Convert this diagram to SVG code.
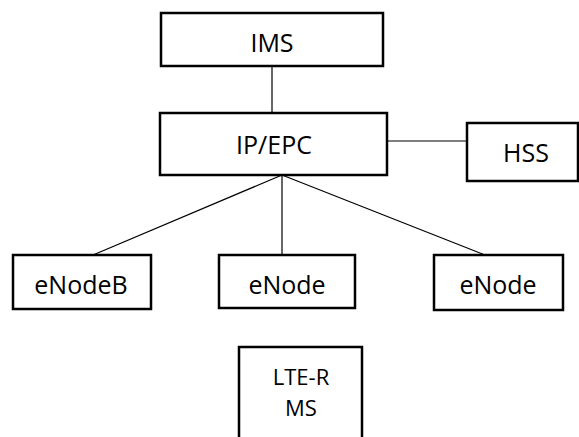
<svg xmlns="http://www.w3.org/2000/svg" width="579" height="437" viewBox="0 0 579 437">
<style>
.box{fill:#fff;stroke:#000;stroke-width:2.5}
.lbl{font-family:"Open Sans","Liberation Sans",sans-serif;font-size:25px;fill:#000;text-anchor:middle}
.sm{font-size:22px}
.con line{stroke:#000;stroke-width:1.2}
</style>
<rect width="579" height="437" fill="#fff"/>
<g id="connectors" class="con">
<line x1="272" y1="66" x2="272" y2="113"/>
<line x1="387" y1="141" x2="467" y2="141"/>
<line x1="282" y1="175" x2="93" y2="255"/>
<line x1="282" y1="175" x2="282" y2="255"/>
<line x1="282" y1="175" x2="485" y2="255"/>
</g>
<g id="ims"><rect class="box" x="161" y="13" width="222" height="53"/><text class="lbl" x="272" y="52">IMS</text></g>
<g id="ipepc"><rect class="box" x="160" y="113" width="227" height="62"/><text class="lbl" x="274" y="154">IP/EPC</text></g>
<g id="hss"><rect class="box" x="467" y="123" width="111" height="58"/><text class="lbl" x="526" y="162">HSS</text></g>
<g id="enodeb"><rect class="box" x="13" y="255" width="138" height="54"/><text class="lbl" x="81" y="294">eNodeB</text></g>
<g id="enode1"><rect class="box" x="219" y="255" width="136" height="53"/><text class="lbl" x="287" y="294">eNode</text></g>
<g id="enode2"><rect class="box" x="434" y="255" width="129" height="55"/><text class="lbl" x="498" y="294">eNode</text></g>
<g id="ltems"><rect class="box" x="239" y="347" width="123" height="100"/><text class="lbl sm" x="301" y="385">LTE-R</text><text class="lbl sm" x="301" y="416">MS</text></g>
</svg>
